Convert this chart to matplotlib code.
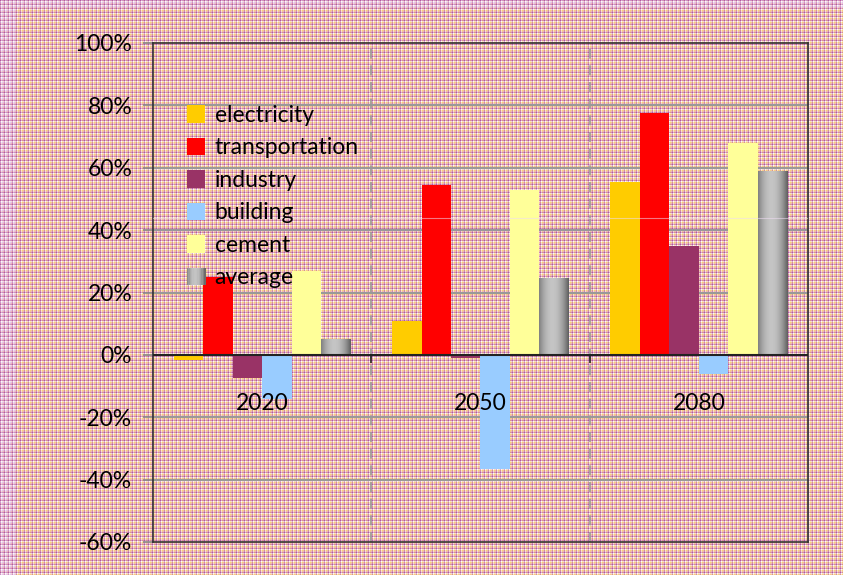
import numpy as np
import matplotlib.pyplot as plt
from matplotlib.patches import Rectangle
from matplotlib.legend_handler import HandlerBase

plt.rcParams['font.family'] = ['Lato', 'DejaVu Sans']

# change in emissions per sector, percent
years = ['2020', '2050', '2080']
sectors = ['electricity', 'transportation', 'industry', 'building', 'cement', 'average']
electricity = [-1.5, 11, 55.5]
transportation = [25, 54.5, 77.5]
industry = [-7.5, -1, 35]
building = [-14, -36.5, -6]
cement = [27, 53, 68]
average = [5, 24.5, 59]
series = [electricity, transportation, industry, building, cement, average]
colors = ['#ffcc00', '#ff0000', '#993366', '#99ccff', '#ffff99', '#999999']
yticks = [-60, -40, -20, 0, 20, 40, 60, 80, 100]


def shade(t):
    # cylinder-like gray: dark edges, light band left of centre
    return 0.37 + 0.40 * np.clip(1 - ((t - 0.45) / 0.55) ** 2, 0, 1)


class GradientHandler(HandlerBase):
    def create_artists(self, legend, orig_handle, xdescent, ydescent,
                       width, height, fontsize, trans):
        n = 14
        arts = []
        for k in range(n):
            g = shade((k + 0.5) / n)
            arts.append(Rectangle((-xdescent + width * k / n, -ydescent),
                                  width / n + 0.3, height, facecolor=(g, g, g),
                                  edgecolor='none', transform=trans))
        return arts


W, H = 843, 575
fig = plt.figure(figsize=(W / 100, H / 100), dpi=100)

# plaid background
P = np.array([180, 90, 160]) / 255
Wh = np.array([255, 250, 248]) / 255
K = np.array([236, 182, 190]) / 255
Y = np.array([248, 208, 124]) / 255
L = np.array([228, 200, 236]) / 255
cycle = np.array([P, Wh, Y, K])
alt = np.array([P, Wh, L, K])
rows = cycle[np.arange(H) % 4]
cols = cycle[np.arange(W) % 4]
tex = (rows[:, None, :] + cols[None, :, :]) / 2
rows_a = alt[np.arange(H) % 4]
cols_a = alt[np.arange(W) % 4]
tex_a = (rows_a[:, None, :] + cols_a[None, :, :]) / 2
tex[:, :16] = tex_a[:, :16]
tex[:8, :] = tex_a[:8, :]
bg = fig.add_axes([0, 0, 1, 1], zorder=-1)
bg.imshow(tex, aspect='auto', interpolation='nearest')
bg.axis('off')

ax = fig.add_axes([153 / W, 1 - 542 / H, 655 / W, 499 / H])
ax.set_facecolor('none')

x = np.arange(len(years))
w = 0.135
for i, (vals, c) in enumerate(zip(series, colors)):
    pos = x + (i - 2.5) * w
    if sectors[i] == 'average':
        bars = ax.bar(pos, vals, w, color='none', edgecolor='none', zorder=3)
        grad = shade(np.linspace(0, 1, 64))[None, :]
        for b in bars:
            x0, y0 = b.get_x(), b.get_y()
            im = ax.imshow(grad, cmap='gray', vmin=0, vmax=1, aspect='auto',
                           extent=(x0, x0 + b.get_width(), y0, y0 + b.get_height()),
                           interpolation='bilinear', zorder=3)
            im.set_clip_path(b)
    else:
        ax.bar(pos, vals, w, color=c, edgecolor='none', zorder=3)

ax.set_xlim(-0.5, 2.5)
ax.set_ylim(-60, 100)

# gridlines
for v in yticks[1:-1]:
    if v != 0:
        ax.axhline(v, color='#999999', lw=1.5, zorder=1)
for v in [0.5, 1.5]:
    ax.axvline(v, color='#9a9a9a', lw=1.2, ls=(0, (6, 4)), zorder=1)
ax.axhline(44, color='#eedcf2', lw=0.8, alpha=0.55, zorder=4)
ax.axhline(0, color='#222222', lw=1.5, zorder=4)
ax.vlines([0.5, 1.5], -2.5, 0, color='#222222', lw=1.2, zorder=4)

for xi, yr in zip(x, years):
    ax.text(xi, -15.5, yr, ha='center', va='center', fontsize=16.5, zorder=5)

ax.set_xticks([])
ax.set_yticks(yticks)
ax.set_yticklabels([f'{v}%' for v in yticks], fontsize=16.5)
ax.tick_params(axis='y', direction='out', length=7, width=1.2, color='#888888', pad=8)
for s in ax.spines.values():
    s.set_color('#333333')
    s.set_linewidth(1.2)

handles = [Rectangle((0, 0), 1, 1, facecolor=c, edgecolor='none') for c in colors]
leg = ax.legend(handles, sectors, loc='upper left',
                bbox_to_anchor=((187 - 153) / 655, (542 - 105) / 499),
                frameon=False, fontsize=16.5, borderpad=0, borderaxespad=0,
                handlelength=0.8, handleheight=0.8, handletextpad=0.4,
                labelspacing=0.5, handler_map={handles[-1]: GradientHandler()})

fig.savefig('out.png', dpi=100)
